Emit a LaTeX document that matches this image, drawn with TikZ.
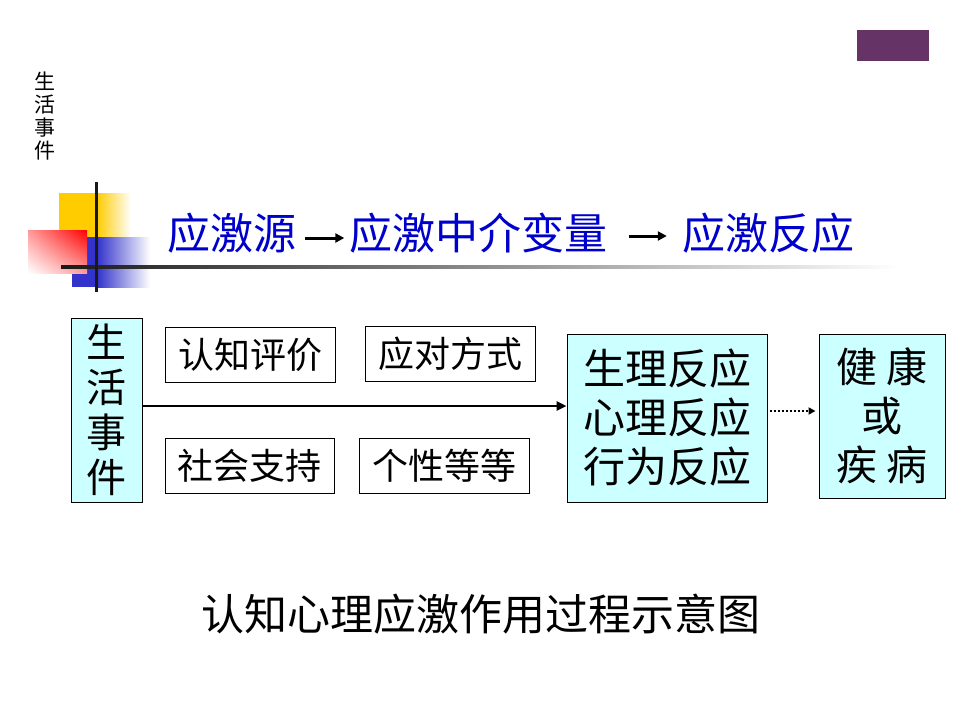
\documentclass[tikz,border=0pt]{standalone}
\usepackage{fontspec}
\setmainfont{Noto Sans CJK SC}
\usetikzlibrary{arrows.meta,shadings}
\definecolor{boxcyan}{RGB}{204,255,255}
\definecolor{titleblue}{RGB}{0,0,204}
\definecolor{deco purple}{RGB}{102,51,102}
\definecolor{decoyellow}{RGB}{255,204,0}
\definecolor{decoblue}{RGB}{51,51,204}
\tikzset{
  cyanbox/.style={draw=black, line width=1pt, fill=boxcyan, inner sep=0pt, align=center},
  whitebox/.style={draw=black, line width=1pt, fill=white, inner sep=0pt, minimum height=55pt, font=\fontsize{36}{40}\selectfont},
  titletext/.style={inner sep=0pt, text=titleblue, font=\fontsize{43}{46}\selectfont},
  titlearrow/.style={line width=3pt, -{Triangle[length=9pt,width=9pt]}},
  mainarrow/.style={line width=2.5pt, -{Triangle[length=10pt,width=9pt]}},
  dotarrow/.style={line width=2pt, dotted, -{Triangle[length=7pt,width=7pt]}}
}
\begin{document}
\begin{tikzpicture}[x=1pt,y=-1pt]
\useasboundingbox (0,0) rectangle (960,720);
\fill[white] (0,0) rectangle (960,720);
% purple tag
\fill[deco purple] (857,30) rectangle (929,61);
% small vertical text
\node[inner sep=0pt, align=center, font=\fontsize{21}{23}\selectfont] (side) at (45,116) {生\\活\\事\\件};
% decoration
\fill[decoyellow] (59,193) rectangle (97,237);
\shade[left color=decoyellow, right color=white] (97,193) rectangle (131,237);
\fill[decoblue] (72,237) rectangle (97,287);
\shade[left color=decoblue, right color=white] (97,237) rectangle (150,287);
\shade[upper right=red, upper left=red!40!white, lower right=red!40!white, lower left=white] (28,230) rectangle (87,273);
\shade[left color=black!90, right color=white] (61,265.5) rectangle (900,268.5);
\fill[black!90] (94.5,182) rectangle (97.5,292);
% title
\node[titletext] (t1) at (232,233) {应激源};
\node[titletext] (t2) at (478.5,233) {应激中介变量};
\node[titletext] (t3) at (768,233) {应激反应};
\draw[titlearrow, shorten <=8pt, shorten >=5pt] ([yshift=-5pt]t1.east) -- ([yshift=-5pt]t2.west);
\draw[titlearrow, shorten <=21pt, shorten >=15pt] ([yshift=-3pt]t2.east) -- ([yshift=-3pt]t3.west);
% main boxes
\node[cyanbox, minimum width=71pt, minimum height=184pt, font=\fontsize{40}{45}\selectfont] (ev) at (106.5,410) {生\\活\\事\\件};
\node[whitebox, minimum width=170pt] (b1) at (250,355) {认知评价};
\node[whitebox, minimum width=170pt] (b2) at (450,353.5) {应对方式};
\node[whitebox, minimum width=169pt] (b3) at (249.5,465.5) {社会支持};
\node[whitebox, minimum width=170pt] (b4) at (444,465.5) {个性等等};
\node[cyanbox, minimum width=200pt, minimum height=168pt, font=\fontsize{42}{49}\selectfont] (resp) at (667,418) {生理反应\\心理反应\\行为反应};
\node[cyanbox, minimum width=126pt, minimum height=164pt, font=\fontsize{41}{49}\selectfont] (health) at (882,416) {健 康\\或\\疾 病};
\draw[mainarrow] ([yshift=4pt]ev.east) -- ([yshift=12pt]resp.west);
\draw[dotarrow] ([yshift=7pt,xshift=2pt]resp.east) -- ([yshift=5pt,xshift=-3pt]health.west);
% caption
\node[inner sep=0pt, font=\fontsize{43}{46}\selectfont] (cap) at (481,614) {认知心理应激作用过程示意图};
\end{tikzpicture}
\end{document}
